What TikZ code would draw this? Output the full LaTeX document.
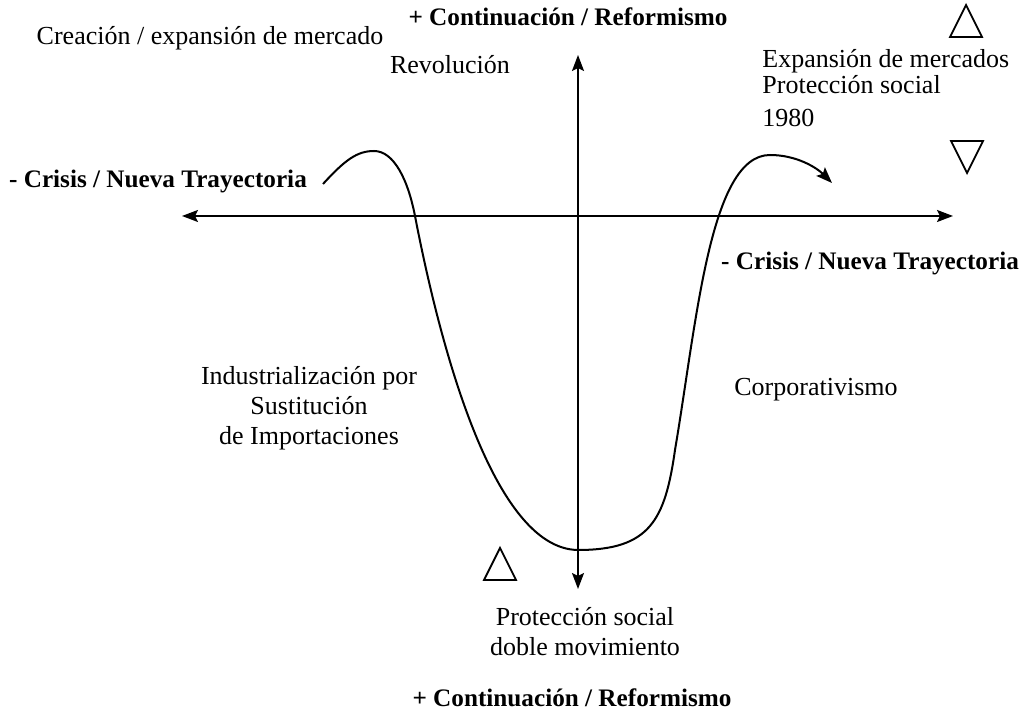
\documentclass[tikz,border=0pt]{standalone}
\usepackage{fontspec}
\setmainfont{Liberation Serif}
\usepackage{tikz}
\usetikzlibrary{arrows.meta}
\tikzstyle{txtlabel}=[font=\fontsize{13}{15}\selectfont, inner sep=0pt, align=center]
\tikzstyle{boldlabel}=[txtlabel, font=\fontsize{12.6}{15}\selectfont\bfseries]
\tikzstyle{axis} = [draw, line width=1pt, {Stealth[length=8pt,width=6pt,inset=1.5pt]}-{Stealth[length=8pt,width=6pt,inset=1.5pt]}]
\tikzstyle{trend} = [draw, line width=1pt]
\tikzstyle{tri} = [draw, line width=0.9pt, line join=miter]

\begin{document}
\begin{tikzpicture}[x=0.5pt, y=-0.5pt]

    \useasboundingbox (0,0) rectangle (1023,710);

    \foreach \x/\y/\name/\txt in {210/38/creacion/{Creación / expansión de mercado}, 450/65/revolucion/{Revolución},
        309/408/industrial/{Industrialización por\\Sustitución\\de Importaciones}, 816/390/corporat/{Corporativismo},
        585/632/proteccionBot/{Protección social\\doble movimiento}}
        \node[txtlabel] (\name) at (\x,\y) {\txt};

    \foreach \x/\y/\name/\txt in {762/61/expansion/{Expansión de mercados}, 762/85/proteccionTop/{Protección social},
        762/118/anio/{1980}}
        \node[txtlabel, anchor=west] (\name) at (\x,\y) {\txt};

    \foreach \x/\y/\name/\txt in {568/17/contTop/{+ Continuación / Reformismo}, 158/181/crisisL/{- Crisis / Nueva Trayectoria},
        870/263/crisisR/{- Crisis / Nueva Trayectoria}, 572/698/contBot/{+ Continuación / Reformismo}}
        \node[boldlabel] (\name) at (\x,\y) {\txt};

    % ejes
    \coordinate (top) at (578,55);
    \coordinate (bottom) at (578,589);
    \coordinate (left) at (182,216);
    \coordinate (right) at (953,216);
    \path[axis] (bottom) -- (top);
    \path[axis] (left) -- (right);

    % trayectoria
    \path[trend, -{Stealth[length=8pt,width=6pt,inset=1.5pt]}] (323,184) .. controls (345,160) and (357,151) .. (374,151)
        .. controls (394,151) and (408,180) .. (415,216)
        .. controls (437,330) and (490,549) .. (578,550)
        .. controls (650,550) and (665,520) .. (675,450)
        .. controls (697,320) and (710,155) .. (770,155)
        .. controls (797,155) and (817,168) .. (832,183);

    % triangulos
    \foreach \x/\y/\s in {966/5/1, 967/173/-1, 500/548/1}
        \path[tri] (\x-16,\y+\s*32) -- (\x+16,\y+\s*32) -- (\x,\y) -- cycle;

\end{tikzpicture}
\end{document}
